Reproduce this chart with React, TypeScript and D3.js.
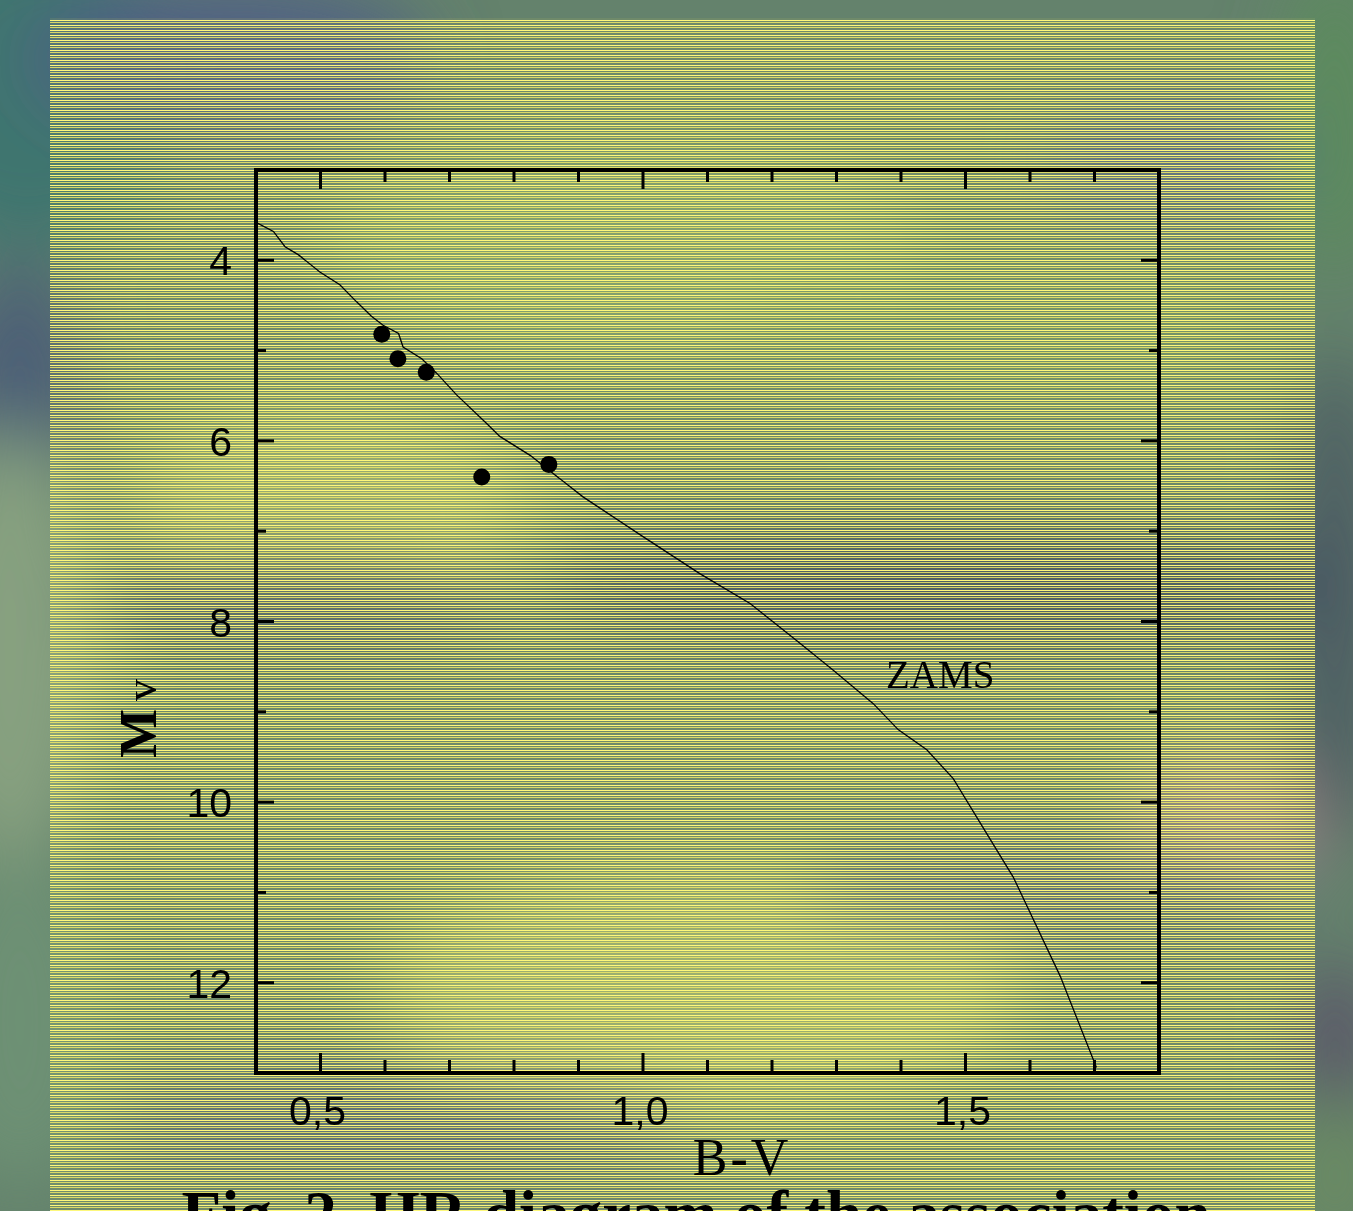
import * as d3 from "d3";

// ZAMS curve (B-V, Mv)
const zamsBV = [0.4, 0.427, 0.445, 0.466, 0.499, 0.53, 0.556, 0.579, 0.597, 0.621, 0.628, 0.657, 0.68, 0.711, 0.758, 0.778, 0.825, 0.907, 1.0, 1.088, 1.166, 1.238, 1.295, 1.357, 1.396, 1.44, 1.481, 1.574, 1.647, 1.703];
const zamsMv = [3.58, 3.68, 3.85, 3.94, 4.13, 4.27, 4.46, 4.62, 4.72, 4.81, 4.96, 5.09, 5.25, 5.49, 5.81, 5.95, 6.16, 6.62, 7.06, 7.47, 7.8, 8.21, 8.54, 8.91, 9.2, 9.42, 9.74, 10.83, 11.93, 12.94];

// association members
const starBV = [0.595, 0.62, 0.664, 0.75, 0.854];
const starMv = [4.82, 5.09, 5.24, 6.4, 6.26];

const xMajor = [0.5, 1.0, 1.5];
const xMinor = [0.6, 0.7, 0.8, 0.9, 1.1, 1.2, 1.3, 1.4, 1.6, 1.7];
const yMajor = [4, 6, 8, 10, 12];
const yMinor = [5, 7, 9, 11];

const W = 1353;
const H = 1211;
const PLOT = { left: 256, top: 170, right: 1159, bottom: 1073 };

const SANS = "'Liberation Sans', Arial, sans-serif";
const SERIF = "'Liberation Serif', 'Times New Roman', serif";

// blurred photo behind the figure (decoration only)
const blobs = [
  { cx: 30, cy: 90, rx: 160, ry: 160, c: "#3c7370" },
  { cx: 230, cy: 60, rx: 200, ry: 80, c: "#4f5e86" },
  { cx: 20, cy: 380, rx: 70, ry: 120, c: "#4a5c78" },
  { cx: 10, cy: 650, rx: 90, ry: 220, c: "#8ba482" },
  { cx: 20, cy: 1020, rx: 90, ry: 170, c: "#6f9276" },
  { cx: 620, cy: 250, rx: 300, ry: 110, c: "#80a070" },
  { cx: 330, cy: 500, rx: 200, ry: 90, c: "#9aae72" },
  { cx: 950, cy: 585, rx: 420, ry: 55, c: "#374664" },
  { cx: 300, cy: 600, rx: 220, ry: 50, c: "#46566e" },
  { cx: 700, cy: 990, rx: 320, ry: 120, c: "#9cb072" },
  { cx: 1230, cy: 820, rx: 100, ry: 70, c: "#a08a8a" },
  { cx: 1000, cy: 330, rx: 260, ry: 70, c: "#6f9068" },
  { cx: 1050, cy: 890, rx: 250, ry: 50, c: "#55667a" },
  { cx: 1180, cy: 160, rx: 140, ry: 60, c: "#556688" },
  { cx: 1335, cy: 120, rx: 50, ry: 160, c: "#5b8d5b" },
  { cx: 1335, cy: 600, rx: 50, ry: 250, c: "#4a5a62" },
  { cx: 1335, cy: 1040, rx: 40, ry: 80, c: "#5a5068" },
  { cx: 1335, cy: 1180, rx: 50, ry: 80, c: "#6c8c62" },
  { cx: 400, cy: 1120, rx: 300, ry: 50, c: "#52627c" },
];

export default function App() {
  const x = d3.scaleLinear().domain([0.4, 1.8]).range([PLOT.left, PLOT.right]);
  const y = d3.scaleLinear().domain([3, 13]).range([PLOT.top, PLOT.bottom]);

  const zams = zamsBV.map((b, i) => [b, zamsMv[i]] as [number, number]);
  const line = d3
    .line<[number, number]>()
    .x((d) => x(d[0]))
    .y((d) => y(d[1]));

  const fmt = (v: number) => d3.format(".1f")(v).replace(".", ",");

  return (
    <svg width={W} height={H} style={{ position: "absolute", left: 0, top: 0 }}>
      <defs>
        <filter id="blur" x="-50%" y="-50%" width="200%" height="200%">
          <feGaussianBlur stdDeviation="35" />
        </filter>
        <pattern id="stripes" width="8" height="5" patternUnits="userSpaceOnUse">
          <rect x="0" y="0" width="8" height="1" fill="#fdf87c" />
          <rect x="0" y="2" width="8" height="1" fill="#eee866" opacity={0.85} />
        </pattern>
        <clipPath id="panel">
          <rect x={50} y={18} width={1265} height={H} />
        </clipPath>
      </defs>

      <rect width={W} height={H} fill="#64826c" />
      <g filter="url(#blur)">
        {blobs.map((b, i) => (
          <ellipse key={i} cx={b.cx} cy={b.cy} rx={b.rx} ry={b.ry} fill={b.c} opacity={0.9} />
        ))}
      </g>

      <g clipPath="url(#panel)">
        <rect x={50} y={18} width={1265} height={H} fill="#c8c860" opacity={0.12} />
        <rect x={50} y={18} width={1265} height={H} fill="url(#stripes)" />
      </g>

      {/* ZAMS */}
      <path d={line(zams) || ""} fill="none" stroke="#000" strokeWidth={1.3} />

      {starBV.map((b, i) => (
        <circle key={i} cx={x(b)} cy={y(starMv[i])} r={8.5} fill="#000" />
      ))}

      {/* frame and ticks */}
      <rect
        x={PLOT.left}
        y={PLOT.top}
        width={PLOT.right - PLOT.left}
        height={PLOT.bottom - PLOT.top}
        fill="none"
        stroke="#000"
        strokeWidth={4}
      />
      <g stroke="#000" strokeWidth={3}>
        {xMajor.map((v) => (
          <g key={"xM" + v}>
            <line x1={x(v)} x2={x(v)} y1={PLOT.bottom} y2={PLOT.bottom - 20} />
            <line x1={x(v)} x2={x(v)} y1={PLOT.top} y2={PLOT.top + 19} />
          </g>
        ))}
        {xMinor.map((v) => (
          <g key={"xm" + v}>
            <line x1={x(v)} x2={x(v)} y1={PLOT.bottom} y2={PLOT.bottom - 13} />
            <line x1={x(v)} x2={x(v)} y1={PLOT.top} y2={PLOT.top + 12} />
          </g>
        ))}
        {yMajor.map((v) => (
          <g key={"yM" + v}>
            <line x1={PLOT.left} x2={PLOT.left + 18} y1={y(v)} y2={y(v)} />
            <line x1={PLOT.right} x2={PLOT.right - 18} y1={y(v)} y2={y(v)} />
          </g>
        ))}
        {yMinor.map((v) => (
          <g key={"ym" + v}>
            <line x1={PLOT.left} x2={PLOT.left + 10} y1={y(v)} y2={y(v)} />
            <line x1={PLOT.right} x2={PLOT.right - 10} y1={y(v)} y2={y(v)} />
          </g>
        ))}
      </g>

      {/* tick labels */}
      <g fontFamily={SANS} fontSize={41} fill="#000">
        {xMajor.map((v) => (
          <text key={"xl" + v} x={x(v) - 3} y={1125} textAnchor="middle">
            {fmt(v)}
          </text>
        ))}
        {yMajor.map((v) => (
          <text key={"yl" + v} x={232} y={y(v) + 15} textAnchor="end">
            {v}
          </text>
        ))}
      </g>

      {/* axis titles */}
      <text x={742} y={1175} textAnchor="middle" fontFamily={SERIF} fontSize={52} letterSpacing={3}>
        B
        <tspan fontWeight="bold">-</tspan>V
      </text>
      <text transform="translate(156,758) rotate(-90)" fontFamily={SERIF} fontSize={52}>
        <tspan fontWeight="bold">M</tspan>
        <tspan dx={8} fontSize={44}>
          v
        </tspan>
      </text>

      <text x={886} y={688} fontFamily={SERIF} fontSize={39}>
        ZAMS
      </text>

      <text
        x={696}
        y={1236}
        textAnchor="middle"
        fontFamily={SERIF}
        fontWeight="bold"
        fontSize={65}
      >
        Fig. 2.  HR diagram of the association
      </text>
    </svg>
  );
}
